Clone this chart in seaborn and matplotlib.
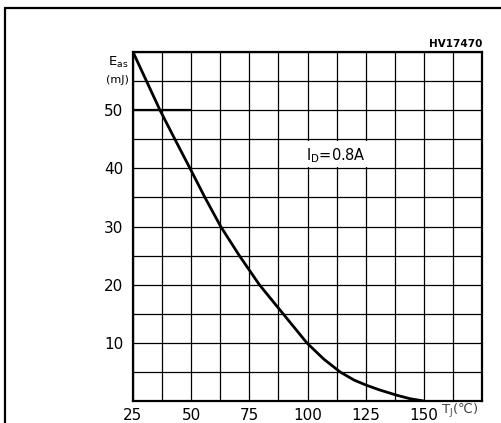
import numpy as np
import matplotlib
matplotlib.use("Agg")
import matplotlib.pyplot as plt
from matplotlib.lines import Line2D
from matplotlib.patches import Rectangle
import seaborn as sns

# values (Tj in degC, Eas in mJ)
tj = [25, 36.6, 43.0, 49.5, 55.9, 62.7, 70.7, 79.3, 89.5, 99.7, 107, 114, 120, 125.4, 131, 138.3, 144, 150]
eas = [60, 50, 45, 40, 35, 30, 25, 20, 15, 10, 7.2, 5, 3.6, 2.7, 1.9, 1.0, 0.4, 0]

x_grid = [25, 37.5, 50, 62.5, 75, 87.5, 100, 112.5, 125, 137.5, 150, 162.5, 175]
x_labels = ["25", "", "50", "", "75", "", "100", "", "125", "", "150", "", ""]
y_grid = [0, 5, 10, 15, 20, 25, 30, 35, 40, 45, 50, 55, 60]
y_labels = ["", "", "10", "", "20", "", "30", "", "40", "", "50", "", ""]

sns.set_style("white")
plt.rcParams['font.family'] = ['DejaVu Sans']
plt.rcParams['text.color'] = 'black'
plt.rcParams['xtick.color'] = 'black'
plt.rcParams['ytick.color'] = 'black'

fig = plt.figure(figsize=(5.01, 4.23), dpi=100)
ax = fig.add_axes([133/501, 22/423, 349/501, 349/423])

ax.set_xlim(25, 175)
ax.set_ylim(0, 60)
ax.set_xticks(x_grid)
ax.set_xticklabels(x_labels, fontsize=11)
ax.set_yticks(y_grid)
ax.set_yticklabels(y_labels, fontsize=11)
ax.tick_params(length=0, pad=5)
ax.tick_params(axis='y', pad=7)
ax.grid(True, color='black', lw=0.9)
for s in ax.spines.values():
    s.set_color('black')
    s.set_linewidth(1.6)

# short heavier segment on the 50 mJ line
ax.hlines(50, 25, 50, color='black', lw=1.6)

sns.lineplot(x=tj, y=eas, color='black', lw=2.0, ax=ax)

# blank cell behind the condition label
ax.add_patch(Rectangle((88.1, 40.25), 48.8, 4.5, facecolor='white', edgecolor='none', zorder=1))
ax.text(112.0, 42.2, r"I$_\mathregular{D}$=0.8A", ha='center', va='center', fontsize=10.5, zorder=3)
ax.text(1.0, 1.008, "HV17470", transform=ax.transAxes, ha='right', va='bottom',
        fontsize=7.5, fontweight='bold')

fig.text(129/501, 1 - 62/423, r"E$_\mathregular{as}$", ha='right', va='center', fontsize=9.5)
fig.text(129/501, 1 - 80/423, "(mJ)", ha='right', va='center', fontsize=8)
fig.text(441/501, 1 - 411/423, r"T$_\mathregular{J}$(℃)", ha='left', va='center',
         fontsize=9.5, color='#444444')

# outer frame
fig.add_artist(Line2D([5/501, 5/501], [0, 1 - 8/423], color='black', lw=1.6,
                      transform=fig.transFigure))
fig.add_artist(Line2D([5/501, 1], [1 - 8/423, 1 - 8/423], color='black', lw=1.6,
                      transform=fig.transFigure))

fig.savefig("out.png", dpi=100)
